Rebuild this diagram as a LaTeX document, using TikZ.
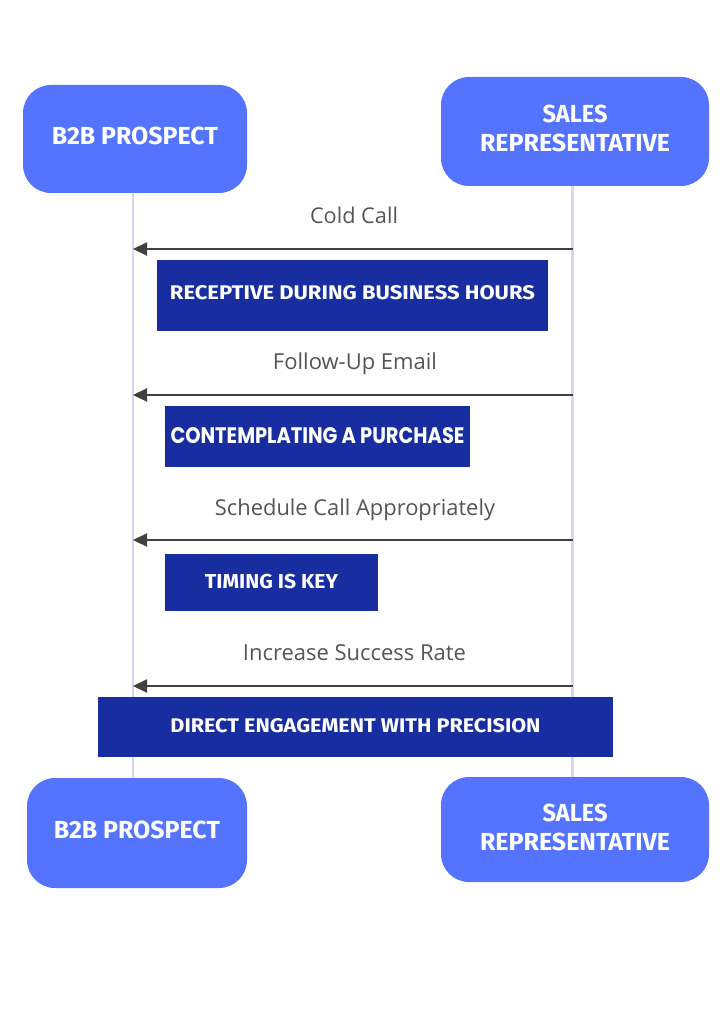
\documentclass[tikz,border=0pt]{standalone}
\usepackage{fontspec}
\usepackage{graphicx}
\setmainfont{Open Sans}
\newfontfamily\capsfont{Fira Sans}
\newfontfamily\popfont{Poppins}
\usetikzlibrary{arrows.meta}
\definecolor{actorblue}{RGB}{84,116,255}
\definecolor{notenavy}{RGB}{24,46,160}
\definecolor{lifecol}{RGB}{218,212,245}
\definecolor{msgline}{RGB}{64,64,64}
\definecolor{msgtext}{RGB}{85,85,85}
\newcommand{\capfit}[3]{\resizebox{#1pt}{#2pt}{\capsfont\bfseries #3}}
\newcommand{\popfit}[3]{\resizebox{#1pt}{#2pt}{\popfont\bfseries #3}}
\newcommand{\msgfit}[2]{\resizebox{#1pt}{!}{#2}}
\begin{document}
\begin{tikzpicture}[x=1pt,y=-1pt,
  actor/.style={fill=actorblue, rounded corners=28pt, inner sep=0pt, text=white,
    align=center, font=\fontsize{20}{29}\selectfont},
  notebox/.style={fill=notenavy, inner sep=0pt, text=white},
  lifeline/.style={draw=lifecol, line width=2.5pt},
  msg/.style={draw=msgline, line width=2.2pt, -{Triangle[length=14pt,width=13pt]}},
  msglabel/.style={text=msgtext, anchor=base, inner sep=0pt}]
\useasboundingbox (0,0) rectangle (724,1024);
\fill[white] (0,0) rectangle (724,1024);

% lifelines
\coordinate (Lt) at (133,193);
\coordinate (Lb) at (133,778);
\coordinate (Rt) at (572.5,186);
\coordinate (Rb) at (572.5,777);
\draw[lifeline] (Lt) -- (Lb);
\draw[lifeline] (Rt) -- (Rb);

% actors
\node[actor, minimum width=224pt, minimum height=108pt, text depth=7pt] (pt) at (135,139)
  {\capfit{166}{17.5}{B2B PROSPECT}};
\node[actor, minimum width=268pt, minimum height=109pt, text depth=6pt] (st) at (575,131.5)
  {\capfit{65}{17.5}{SALES}\\\capfit{190}{17.5}{REPRESENTATIVE}};
\node[actor, minimum width=220pt, minimum height=110pt, text depth=7pt] (pb) at (137,833)
  {\capfit{166}{17.5}{B2B PROSPECT}};
\node[actor, minimum width=268pt, minimum height=105pt, text depth=5pt] (sb) at (575,829.5)
  {\capfit{65}{17.5}{SALES}\\\capfit{190}{17.5}{REPRESENTATIVE}};

% messages
\coordinate (m1r) at (572.5,249); \coordinate (m1l) at (133,249);
\coordinate (m2r) at (572.5,395); \coordinate (m2l) at (133,395);
\coordinate (m3r) at (572.5,540); \coordinate (m3l) at (133,540);
\coordinate (m4r) at (572.5,686); \coordinate (m4l) at (133,686);
\draw[msg] (m1r) -- (m1l);
\draw[msg] (m2r) -- (m2l);
\draw[msg] (m3r) -- (m3l);
\draw[msg] (m4r) -- (m4l);
\node[msglabel] (l1) at (354,223) {\msgfit{88}{Cold Call}};
\node[msglabel] (l2) at (355,369) {\msgfit{164}{Follow-Up Email}};
\node[msglabel] (l3) at (355,515) {\msgfit{280}{Schedule Call Appropriately}};
\node[msglabel] (l4) at (354.5,660) {\msgfit{223}{Increase Success Rate}};

% notes
\node[notebox, minimum width=391pt, minimum height=71pt, text depth=7pt] (n1) at (352.5,295.5)
  {\capfit{365}{14}{RECEPTIVE DURING BUSINESS HOURS}};
\node[notebox, minimum width=305pt, minimum height=61pt, text depth=3pt] (n2) at (317.5,436.5)
  {\popfit{294}{16}{CONTEMPLATING A PURCHASE}};
\node[notebox, minimum width=213pt, minimum height=57pt, text depth=3pt] (n3) at (271.5,582.5)
  {\capfit{133}{14.3}{TIMING IS KEY}};
\node[notebox, minimum width=515pt, minimum height=60pt, text depth=4pt] (n4) at (355.5,727)
  {\capfit{370}{14}{DIRECT ENGAGEMENT WITH PRECISION}};
\end{tikzpicture}
\end{document}
